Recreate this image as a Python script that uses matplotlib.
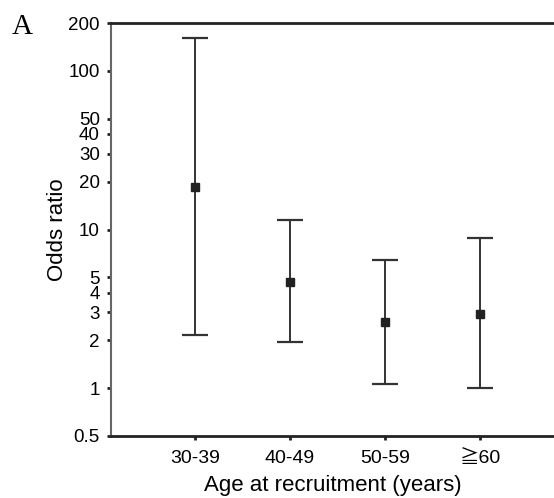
import matplotlib
matplotlib.use("Agg")
import matplotlib.pyplot as plt
from matplotlib.ticker import FixedLocator, NullLocator

# Données
categories = ["30-39", "40-49", "50-59", "\u226760"]
odds = [18.4, 4.7, 2.6, 2.95]
ci_low = [2.15, 1.96, 1.06, 1.0]
ci_high = [162, 11.5, 6.4, 8.9]
yticks = [0.5, 1, 2, 3, 4, 5, 10, 20, 30, 40, 50, 100, 200]
ytick_labels = ["0.5", "1", "2", "3", "4", "5", "10", "20", "30", "40", "50", "100", "200"]

plt.rcParams["font.family"] = ["Liberation Sans", "DejaVu Sans"]

fig = plt.figure(figsize=(5.54, 4.98), dpi=100)
ax = fig.add_axes([0.2004, 0.1245, 0.7996, 0.8293])

x = list(range(1, len(categories) + 1))
err = [[o - l for o, l in zip(odds, ci_low)], [h - o for o, h in zip(odds, ci_high)]]
ax.errorbar(x, odds, yerr=err, fmt="s", color="#222222", ecolor="#333333",
            elinewidth=1.4, capsize=9.5, capthick=1.6, markersize=6)

ax.set_yscale("log")
ax.set_ylim(0.5, 200)
ax.set_xlim(0.116, 4.78)
ax.yaxis.set_major_locator(FixedLocator(yticks))
ax.yaxis.set_minor_locator(NullLocator())
ax.set_yticklabels(ytick_labels)
ax.set_xticks(x)
ax.set_xticklabels(categories, family=["Liberation Sans", "Noto Sans CJK JP", "DejaVu Sans"])

ax.spines["right"].set_visible(False)
ax.spines["left"].set_color("#666666")
ax.spines["left"].set_linewidth(1.5)
ax.spines["top"].set_color("#222222")
ax.spines["top"].set_linewidth(2)
ax.spines["bottom"].set_color("#222222")
ax.spines["bottom"].set_linewidth(2)

ax.tick_params(axis="y", length=3, width=2, color="#222222", labelsize=13.5, pad=5)
ax.tick_params(axis="x", length=3, width=2, color="#222222", labelsize=14, pad=7)

ax.set_ylabel("Odds ratio", fontsize=16, labelpad=0)
ax.set_xlabel("Age at recruitment (years)", fontsize=16, labelpad=6)

fig.text(0.022, 0.945, "A", family="Liberation Serif", fontsize=21, va="center")

fig.savefig("out.png", dpi=100)
